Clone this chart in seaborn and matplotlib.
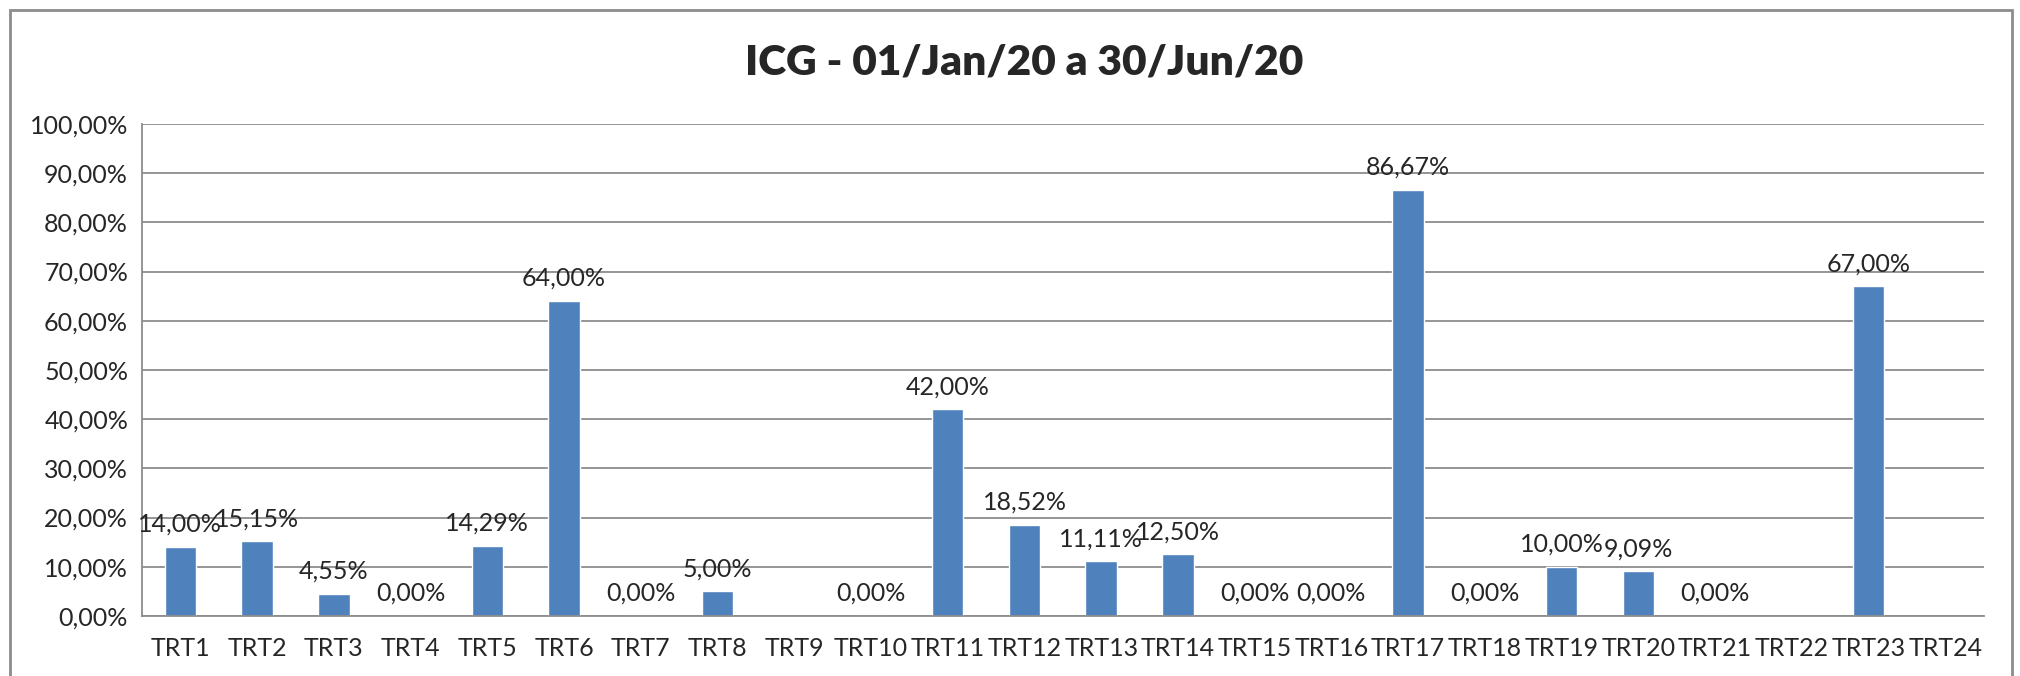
import seaborn as sns
import matplotlib.pyplot as plt
import matplotlib.patches as mpatches
import pandas as pd
import numpy as np

sns.set_style("white")
plt.rcParams['font.family'] = ['Lato', 'DejaVu Sans']

# data (None = no value shown)
categories = ["TRT%d" % i for i in range(1, 25)]
values = [14.00, 15.15, 4.55, 0.00, 14.29, 64.00, 0.00, 5.00, None, 0.00,
          42.00, 18.52, 11.11, 12.50, 0.00, 0.00, 86.67, 0.00, 10.00, 9.09,
          0.00, None, 67.00, None]
yticks = [0, 10, 20, 30, 40, 50, 60, 70, 80, 90, 100]

df = pd.DataFrame({"cat": categories,
                   "val": [np.nan if v is None else v for v in values]})

fig = plt.figure(figsize=(20.2, 6.76), dpi=100)
ax = fig.add_axes([0.0703, 0.0888, 0.9117, 0.7278])

sns.barplot(data=df, x="cat", y="val", color="#4F81BD", saturation=1,
            width=0.41, ax=ax, order=categories)

ax.set_xlim(-0.5, len(categories) - 0.5)
ax.set_ylim(0, 100)
ax.set_yticks(yticks)
ax.set_yticklabels(["%d,00%%" % t for t in yticks], fontsize=18)
ax.set_xlabel("")
ax.set_ylabel("")
ax.yaxis.grid(True, color="#8c8c8c", linewidth=1.3)
ax.set_axisbelow(True)

# category ticks between bars, Excel style
ax.set_xticks(np.arange(len(categories)))
ax.set_xticklabels(categories, fontsize=18)
ax.tick_params(axis="x", length=0, pad=15)
ax.set_xticks(np.arange(len(categories) + 1) - 0.5, minor=True)
ax.tick_params(axis="x", which="minor", length=9, width=1.3, color="#8c8c8c", direction="out")
ax.tick_params(axis="y", length=6, width=1.3, color="#8c8c8c", direction="out", pad=4)

for s in ["top", "right"]:
    ax.spines[s].set_visible(False)
for s in ["left", "bottom"]:
    ax.spines[s].set_color("#8c8c8c")
    ax.spines[s].set_linewidth(1.3)

for i, v in enumerate(values):
    if v is None:
        continue
    ax.annotate(("%.2f%%" % v).replace(".", ","), (i, v), xytext=(0, 8),
                textcoords="offset points", ha="center", va="bottom", fontsize=18)

fig.text(0.507, 0.908, "ICG - 01/Jan/20 a 30/Jun/20", ha="center", va="center",
         fontsize=30.5, fontweight="heavy")

# outer chart border
fig.patches.append(mpatches.Rectangle((0.005, -0.05), 0.991, 1.035,
                                      transform=fig.transFigure, fill=False,
                                      edgecolor="#8c8c8c", linewidth=2))

plt.savefig("out.png", dpi=100)
plt.close()
